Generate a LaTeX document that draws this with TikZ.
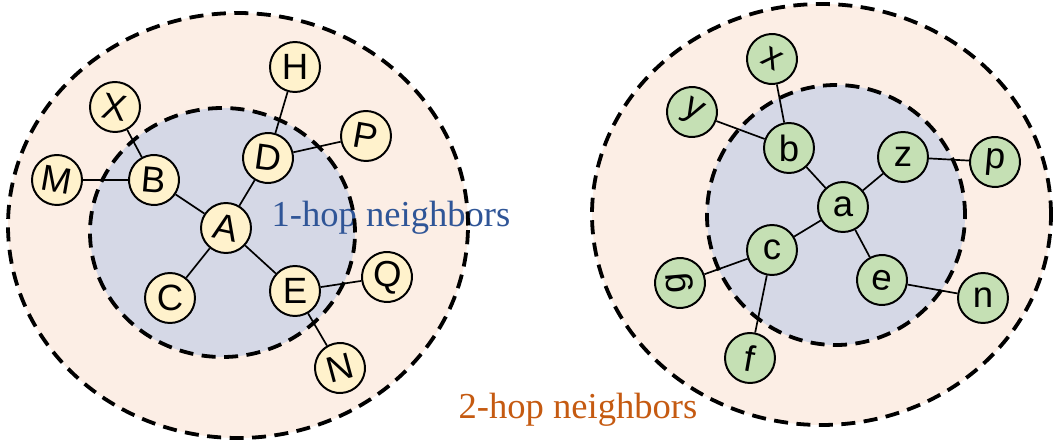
\documentclass[tikz,border=0pt]{standalone}
\usepackage{fontspec}
\setmainfont{Liberation Serif}
\newfontfamily\vtxfont{Liberation Sans}
\definecolor{hopone}{HTML}{D5D8E6}
\definecolor{hoptwo}{HTML}{FCEEE5}
\definecolor{vyellow}{HTML}{FFF2CC}
\definecolor{vgreen}{HTML}{C5E0B4}
\definecolor{textblue}{HTML}{2F5597}
\definecolor{textorange}{HTML}{C55A11}
\tikzset{
  vtx/.style={circle, draw, line width=1.4pt, minimum size=1.25cm, inner sep=0pt,
    font=\vtxfont\fontsize{26}{28}\selectfont},
  yv/.style={vtx, fill=vyellow},
  gv/.style={vtx, fill=vgreen},
  ring/.style={line width=2.7pt, dash pattern=on 10pt off 6pt},
  hoplabel/.style={font=\fontsize{26}{30}\selectfont}
}
\begin{document}
\begin{tikzpicture}
\useasboundingbox (0,0) rectangle (26.6,-11.175);
% neighbourhood areas
\fill[hoptwo] (5.95,-5.6375) ellipse (5.75 and 5.3125);
\fill[hopone] (5.5625,-5.8125) ellipse (3.3125 and 3.1125);
\fill[hoptwo] (20.5375,-5.3625) ellipse (5.7375 and 5.2625);
\fill[hopone] (20.9,-5.375) ellipse (3.225 and 3.25);
\node[hoplabel, text=textblue] (lone) at (9.775,-5.45) {1-hop neighbors};
\node[hoplabel, text=textorange] (ltwo) at (14.45,-10.25) {2-hop neighbors};
\draw[ring] (5.95,-5.6375) ellipse (5.75 and 5.3125);
\draw[ring] (5.5625,-5.8125) ellipse (3.3125 and 3.1125);
\draw[ring] (20.5375,-5.3625) ellipse (5.7375 and 5.2625);
\draw[ring] (20.9,-5.375) ellipse (3.225 and 3.25);
% left graph
\node[yv, rotate=-12] (A) at (5.65,-5.7) {A};
\node[yv, rotate=-5] (B) at (3.85,-4.5) {B};
\node[yv] (C) at (4.25,-7.45) {C};
\node[yv, rotate=-8] (D) at (6.7,-3.95) {D};
\node[yv] (E) at (7.375,-7.275) {E};
\node[yv] (H) at (7.375,-1.675) {H};
\node[yv, rotate=-10] (X) at (2.875,-2.675) {X};
\node[yv, rotate=-10] (M) at (1.425,-4.5) {M};
\node[yv, rotate=-10] (P) at (9.15,-3.4) {P};
\node[yv, rotate=-5] (Q) at (9.675,-6.925) {Q};
\node[yv, rotate=15] (N) at (8.5,-9.2) {N};
\foreach \u/\v in {A/B,A/C,A/D,A/E,B/X,B/M,D/H,D/P,E/Q,E/N}
  \draw[line width=1.2pt] (\u) -- (\v);
% right graph
\node[gv] (a) at (21.075,-5.175) {a};
\node[gv] (b) at (19.725,-3.7) {b};
\node[gv] (c) at (19.3,-6.25) {c};
\node[gv] (z) at (22.575,-3.925) {z};
\node[gv, rotate=-8] (e) at (22.05,-7.0) {e};
\node[gv, rotate=-30] (x) at (19.3,-1.475) {x};
\node[gv, rotate=-30] (y) at (17.3,-2.8) {y};
\node[gv, rotate=-5] (p) at (24.875,-4.05) {p};
\node[gv, rotate=95] (g) at (17.0,-7.075) {g};
\node[gv, rotate=-10] (f) at (18.75,-8.95) {f};
\node[gv] (n) at (24.575,-7.45) {n};
\foreach \u/\v in {a/b,a/c,a/z,a/e,b/x,b/y,z/p,c/g,c/f,e/n}
  \draw[line width=1.2pt] (\u) -- (\v);
\end{tikzpicture}
\end{document}
